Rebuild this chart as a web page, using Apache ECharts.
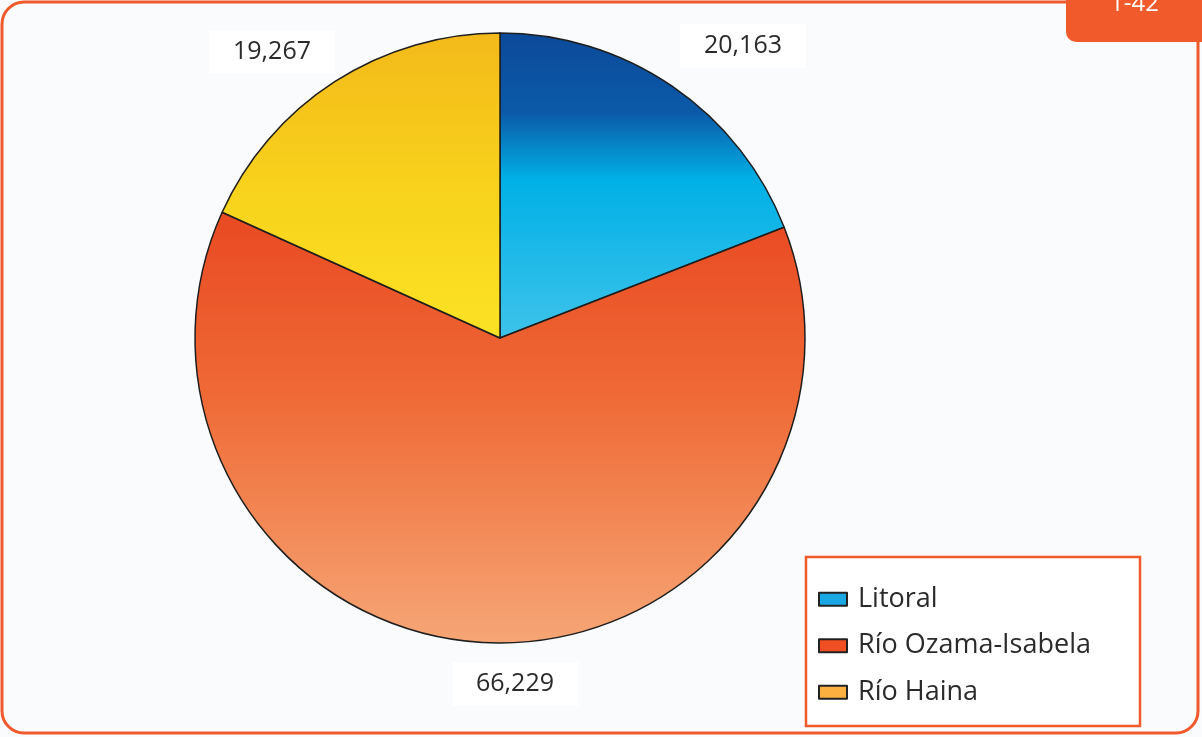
<!DOCTYPE html>
<html>
<head>
<meta charset="utf-8">
<script src="https://cdn.jsdelivr.net/npm/echarts@6/dist/echarts.min.js"></script>
<style>
  body { margin: 0; padding: 0; background: #fff; }
  #chart { width: 1202px; height: 737px; }
</style>
</head>
<body>
<div id="chart"></div>
<script>
// data
const regions = ["Litoral", "Río Ozama-Isabela", "Río Haina"];
const amounts = [20163, 66229, 19267];
const labelTexts = ["20,163", "66,229", "19,267"];
const legendColors = ["#1aa8e4", "#f04e23", "#fbb040"];

const ORANGE = "#f15a2b";
const FONT = "Open Sans";
const cx = 500, cy = 338, r = 305;

// vertical gradients spanning the whole pie (global coords)
function grad(stops) {
  return new echarts.graphic.LinearGradient(0, cy - r, 0, cy + r,
    stops.map(s => ({ offset: s[0], color: s[1] })), true);
}
const sliceFills = [
  grad([[0, "#0c4a9a"], [0.13, "#0b5aa8"], [0.24, "#00b0e6"], [0.5, "#3ec3ea"]]),
  grad([[0, "#e84322"], [0.3, "#e94a22"], [0.6, "#ef6a36"], [1, "#f6a676"]]),
  grad([[0, "#f3b91a"], [0.25, "#f8d21c"], [0.5, "#fbe224"]])
];

// where the value boxes sit
const labelPos = [[743, 46], [515, 684], [272, 52]];

const chart = echarts.init(document.getElementById("chart"));

const option = {
  animation: false,
  backgroundColor: "#fafbfd",
  graphic: [
    {
      type: "rect", z: 0,
      shape: { x: 2, y: 2, width: 1196, height: 731, r: 22 },
      style: { fill: "#fafbfd", stroke: ORANGE, lineWidth: 3 }
    },
    {
      type: "rect", z: 1,
      shape: { x: 1066, y: -12, width: 140, height: 54, r: [0, 0, 0, 10] },
      style: { fill: ORANGE }
    },
    {
      type: "text", z: 2, left: 1110, top: -8,
      style: { text: "1-42", fill: "#fff", fontSize: 24, fontFamily: FONT }
    },
    {
      type: "rect", z: 1,
      shape: { x: 806, y: 557, width: 334, height: 169 },
      style: { fill: "#fff", stroke: ORANGE, lineWidth: 2.5 }
    }
  ],
  legend: {
    orient: "vertical",
    left: 813,
    top: 577,
    itemWidth: 28,
    itemHeight: 13,
    itemGap: 12,
    icon: "rect",
    z: 5,
    data: regions.map((n, i) => ({
      name: n,
      itemStyle: { color: legendColors[i], borderColor: "#222", borderWidth: 2 }
    })),
    textStyle: {
      fontFamily: FONT, fontSize: 27, color: "#2a2a2a",
      lineHeight: 34.5,
      padding: [0, 0, 0, 6]
    }
  },
  series: [
    {
      type: "pie",
      center: [cx, cy],
      radius: r,
      startAngle: 90,
      clockwise: true,
      data: regions.map((n, i) => ({
        name: n,
        value: amounts[i],
        itemStyle: { color: sliceFills[i] }
      })),
      itemStyle: { borderColor: "#1e1e1e", borderWidth: 1.5 },
      label: {
        show: true,
        position: "outside",
        formatter: p => labelTexts[p.dataIndex],
        fontFamily: FONT,
        fontSize: 25,
        color: "#2a2a2a",
        backgroundColor: "#fff",
        padding: [10, 24, 9, 24]
      },
      labelLine: { show: false },
      labelLayout: p => ({
        x: labelPos[p.dataIndex][0],
        y: labelPos[p.dataIndex][1],
        align: "center",
        verticalAlign: "middle"
      }),
      emphasis: { disabled: true }
    }
  ]
};

chart.setOption(option);
</script>
</body>
</html>
